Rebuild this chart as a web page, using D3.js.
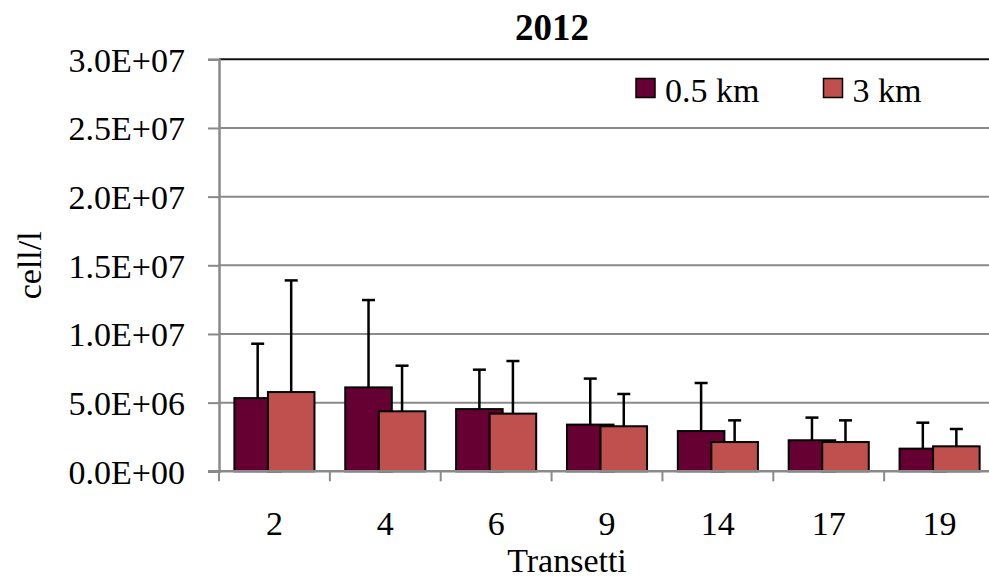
<!DOCTYPE html>
<html><head><meta charset="utf-8">
<script src="https://cdn.jsdelivr.net/npm/d3@7"></script>
<style>body{margin:0;background:#fff}svg{display:block}</style>
</head><body><svg id="c" width="989" height="578"></svg>
<script>
const categories = ["2","4","6","9","14","17","19"];
const seriesNames = ["0.5 km","3 km"];
const values05 = [5.33e6, 6.11e6, 4.53e6, 3.40e6, 2.93e6, 2.26e6, 1.65e6];
const errors05 = [3.96e6, 6.36e6, 2.87e6, 3.35e6, 3.50e6, 1.65e6, 1.89e6];
const values3 = [5.77e6, 4.37e6, 4.20e6, 3.28e6, 2.13e6, 2.13e6, 1.82e6];
const errors3 = [8.13e6, 3.32e6, 3.83e6, 2.35e6, 1.58e6, 1.58e6, 1.26e6];
const yTicks = [0, 5e6, 1e7, 1.5e7, 2e7, 2.5e7, 3e7];
const colors = ["#660033", "#C0504D"];

const FONT = "'Liberation Serif', 'Times New Roman', serif";
const svg = d3.select("#c");
const plotLeft = 219, plotTop = 59.3, plotBottom = 471.3, step = 110.86;
const x = d3.scaleBand().domain(categories).range([plotLeft, plotLeft + step * categories.length]).padding(0);
const y = d3.scaleLinear().domain([0, 3e7]).range([plotBottom, plotTop]);
const fmt = v => { const e = v === 0 ? 0 : Math.floor(Math.log10(v)); const m = v / Math.pow(10, e); return m.toFixed(1) + "E" + (e < 0 ? "-" : "+") + String(Math.abs(e)).padStart(2, "0"); };

// gridlines
svg.append("g").selectAll("line").data(yTicks.filter(d => d > 0 && d < 3e7)).join("line")
  .attr("x1", plotLeft).attr("x2", 989).attr("y1", d => y(d)).attr("y2", d => y(d))
  .attr("stroke", "#8a8a8a").attr("stroke-width", 2);
// top border
svg.append("line").attr("x1", plotLeft).attr("x2", 989).attr("y1", y(3e7)).attr("y2", y(3e7))
  .attr("stroke", "#111").attr("stroke-width", 2);

// y axis
const yAxis = svg.append("g").attr("transform", `translate(${plotLeft},0)`)
  .call(d3.axisLeft(y).tickValues(yTicks).tickFormat(fmt).tickSize(11).tickPadding(23));
yAxis.select(".domain").attr("stroke", "#8a8a8a").attr("stroke-width", 2.5);
yAxis.selectAll(".tick line").attr("stroke", "#8a8a8a").attr("stroke-width", 2);
yAxis.selectAll(".tick text").style("font-size", "34px").style("font-family", FONT).attr("fill", "#000").attr("dy", "0.35em");

// bars
const bw = x.bandwidth();
const barW = bw * 0.42, overlap = barW * 0.28;
const groupW = 2 * barW - overlap, offset = (bw - groupW) / 2;
const series = [
  {name: seriesNames[0], vals: values05, errs: errors05, color: colors[0], dx: offset},
  {name: seriesNames[1], vals: values3, errs: errors3, color: colors[1], dx: offset + barW - overlap}
];
series.forEach(s => {
  const g = svg.append("g");
  g.selectAll("rect").data(categories).join("rect")
    .attr("x", (c) => x(c) + s.dx).attr("width", barW)
    .attr("y", (c, i) => y(s.vals[i])).attr("height", (c, i) => y(0) - y(s.vals[i]))
    .attr("fill", s.color).attr("stroke", "#000").attr("stroke-width", 2);
});
series.forEach(s => {
  const g = svg.append("g");
  categories.forEach((c, i) => {
    const cx = x(c) + s.dx + barW / 2;
    const yt = y(s.vals[i] + s.errs[i]);
    g.append("line").attr("x1", cx).attr("x2", cx).attr("y1", y(s.vals[i])).attr("y2", yt).attr("stroke", "#000").attr("stroke-width", 2.5);
    g.append("line").attr("x1", cx - 6.5).attr("x2", cx + 6.5).attr("y1", yt).attr("y2", yt).attr("stroke", "#000").attr("stroke-width", 2.5);
  });
});

// x axis
const xAxis = svg.append("g").attr("transform", `translate(0,${plotBottom})`)
  .call(d3.axisBottom(x).tickSize(0).tickPadding(40));
xAxis.select(".domain").remove();
svg.append("line").attr("x1", plotLeft - 11).attr("x2", 989).attr("y1", plotBottom).attr("y2", plotBottom).attr("stroke", "#8a8a8a").attr("stroke-width", 2.5);
svg.append("g").selectAll("line").data(categories.concat(["end"])).join("line")
  .attr("x1", (d, i) => plotLeft + i * step).attr("x2", (d, i) => plotLeft + i * step)
  .attr("y1", plotBottom).attr("y2", plotBottom + 10).attr("stroke", "#8a8a8a").attr("stroke-width", 2);
xAxis.selectAll(".tick text").style("font-size", "34px").style("font-family", FONT).attr("fill", "#000");

// titles
svg.append("text").attr("x", 552).attr("y", 40).attr("text-anchor", "middle").style("font-size", "37px").style("font-family", FONT).attr("font-weight", "bold").text("2012");
svg.append("text").attr("x", 567).attr("y", 572).attr("text-anchor", "middle").style("font-size", "34px").style("font-family", FONT).text("Transetti");
svg.append("text").attr("transform", `translate(41,${(plotTop + plotBottom) / 2}) rotate(-90)`).attr("text-anchor", "middle").style("font-size", "34px").style("font-family", FONT).text("cell/l");

// legend
const lg = svg.append("g");
const legX = [636, 823.5];
series.forEach((s, i) => {
  lg.append("rect").attr("x", legX[i]).attr("y", 78.5).attr("width", 19).attr("height", 19).attr("fill", s.color).attr("stroke", "#000").attr("stroke-width", 1.5);
  lg.append("text").attr("x", legX[i] + 29).attr("y", 101.5).style("font-size", "34px").style("font-family", FONT).text(s.name);
});
</script></body></html>
